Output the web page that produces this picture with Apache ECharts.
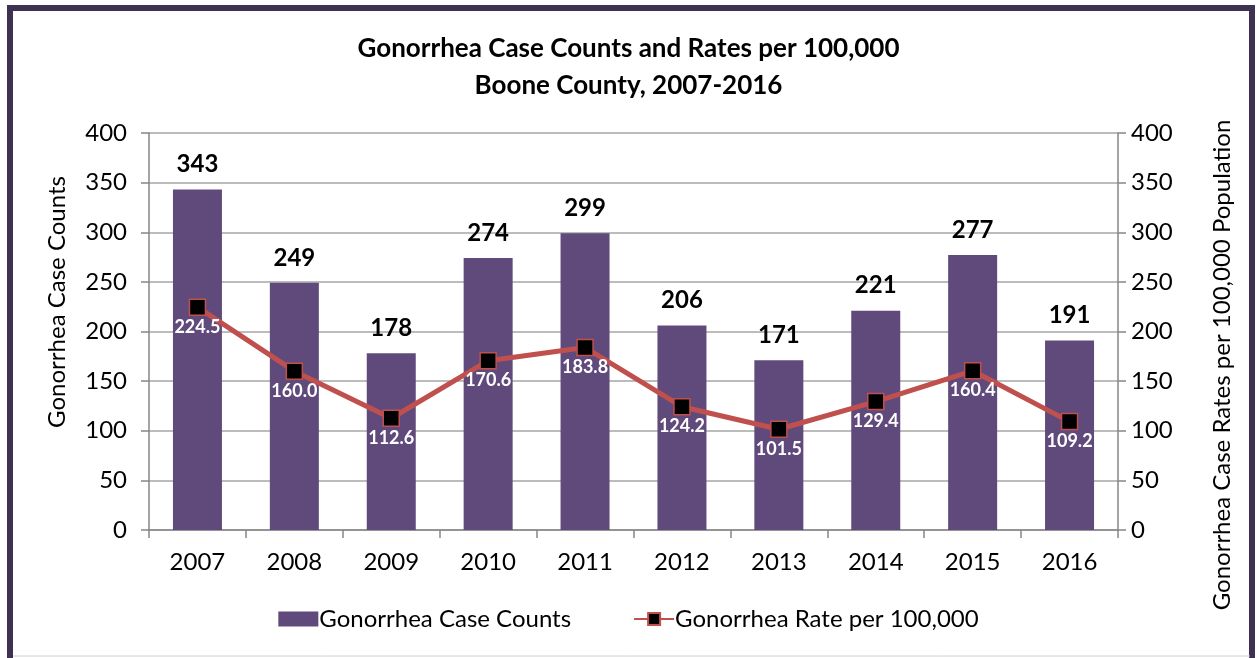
<!DOCTYPE html>
<html>
<head>
<meta charset="utf-8">
<script src="https://cdn.jsdelivr.net/npm/echarts@6/dist/echarts.min.js"></script>
<style>
  html, body { margin: 0; padding: 0; background: #fff; }
  #container { width: 1257px; height: 658px; }
</style>
</head>
<body>
<div id="container"></div>
<script>
  var years = ['2007', '2008', '2009', '2010', '2011', '2012', '2013', '2014', '2015', '2016'];
  var caseCounts = [343, 249, 178, 274, 299, 206, 171, 221, 277, 191];
  var ratePer100k = [224.5, 160.0, 112.6, 170.6, 183.8, 124.2, 101.5, 129.4, 160.4, 109.2];

  var dom = document.getElementById('container');
  var myChart = echarts.init(dom, null, { renderer: 'canvas' });
  var font = 'Lato';

  var option = {
    animation: false,
    textStyle: { fontFamily: font },
    title: {
      text: 'Gonorrhea Case Counts and Rates per 100,000\nBoone County, 2007-2016',
      left: 'center',
      top: 25,
      textStyle: { fontSize: 26, fontWeight: 'bold', color: '#000', lineHeight: 37, fontFamily: font }
    },
    graphic: [
      {
        type: 'rect', silent: true,
        shape: { x: 10, y: 8, width: 1242, height: 720 },
        style: { fill: 'none', stroke: '#3F3151', lineWidth: 6 }
      },
      {
        type: 'line', silent: true,
        shape: { x1: 13, y1: 656, x2: 1250, y2: 656 },
        style: { stroke: '#d0d0d0', lineWidth: 1 }
      },
      {
        type: 'text', x: 57, y: 302, rotation: Math.PI / 2,
        style: { text: 'Gonorrhea Case Counts', font: '24px Lato', fill: '#000', align: 'center', verticalAlign: 'middle' }
      },
      {
        type: 'text', x: 1222, y: 365, rotation: Math.PI / 2,
        style: { text: 'Gonorrhea Case Rates per 100,000 Population', font: '24px Lato', fill: '#000', align: 'center', verticalAlign: 'middle' }
      }
    ],
    legend: {
      bottom: 22,
      left: 'center',
      itemGap: 62,
      itemWidth: 40,
      itemHeight: 15,
      textStyle: { fontSize: 24, color: '#000', fontFamily: font, padding: [0, 0, 0, -4] },
      data: [
        { name: 'Gonorrhea Case Counts', icon: 'rect' },
        { name: 'Gonorrhea Rate per 100,000' }
      ]
    },
    grid: { left: 149, right: 139, top: 133, bottom: 128 },
    xAxis: {
      type: 'category',
      data: years,
      axisLine: { lineStyle: { color: '#868686', width: 1.5 } },
      axisTick: { show: true, length: 8, alignWithLabel: false, lineStyle: { color: '#868686', width: 1.5 } },
      axisLabel: { fontSize: 24, color: '#000', margin: 20 }
    },
    yAxis: [
      {
        type: 'value', min: 0, max: 400, interval: 50,
        axisLine: { show: true, lineStyle: { color: '#868686', width: 1.5 } },
        axisTick: { show: true, length: 8, lineStyle: { color: '#868686', width: 1.5 } },
        axisLabel: { fontSize: 24, color: '#000', margin: 22 },
        splitLine: { lineStyle: { color: '#a6a6a6', width: 1.5 } }
      },
      {
        type: 'value', min: 0, max: 400, interval: 50, position: 'right',
        axisLine: { show: true, lineStyle: { color: '#868686', width: 1.5 } },
        axisTick: { show: true, length: 8, lineStyle: { color: '#868686', width: 1.5 } },
        axisLabel: { fontSize: 24, color: '#000', margin: 13 },
        splitLine: { show: false }
      }
    ],
    series: [
      {
        name: 'Gonorrhea Case Counts',
        type: 'bar',
        data: caseCounts,
        barWidth: 49,
        itemStyle: { color: '#604A7B' },
        label: { show: true, position: 'top', distance: 13, fontSize: 24, fontWeight: 'bold', color: '#000' }
      },
      {
        name: 'Gonorrhea Rate per 100,000',
        type: 'line',
        yAxisIndex: 1,
        data: ratePer100k,
        symbol: 'rect',
        symbolSize: 16,
        lineStyle: { color: '#C0504D', width: 5 },
        itemStyle: { color: '#000', borderColor: '#C0504D', borderWidth: 1.5 },
        label: {
          show: true, position: 'bottom', distance: 2,
          fontSize: 18, fontWeight: 'bold', color: '#fff',
          formatter: function (p) { return p.value.toFixed(1); }
        },
        z: 5
      }
    ]
  };

  myChart.setOption(option);
  window.addEventListener('resize', myChart.resize);
</script>
</body>
</html>
